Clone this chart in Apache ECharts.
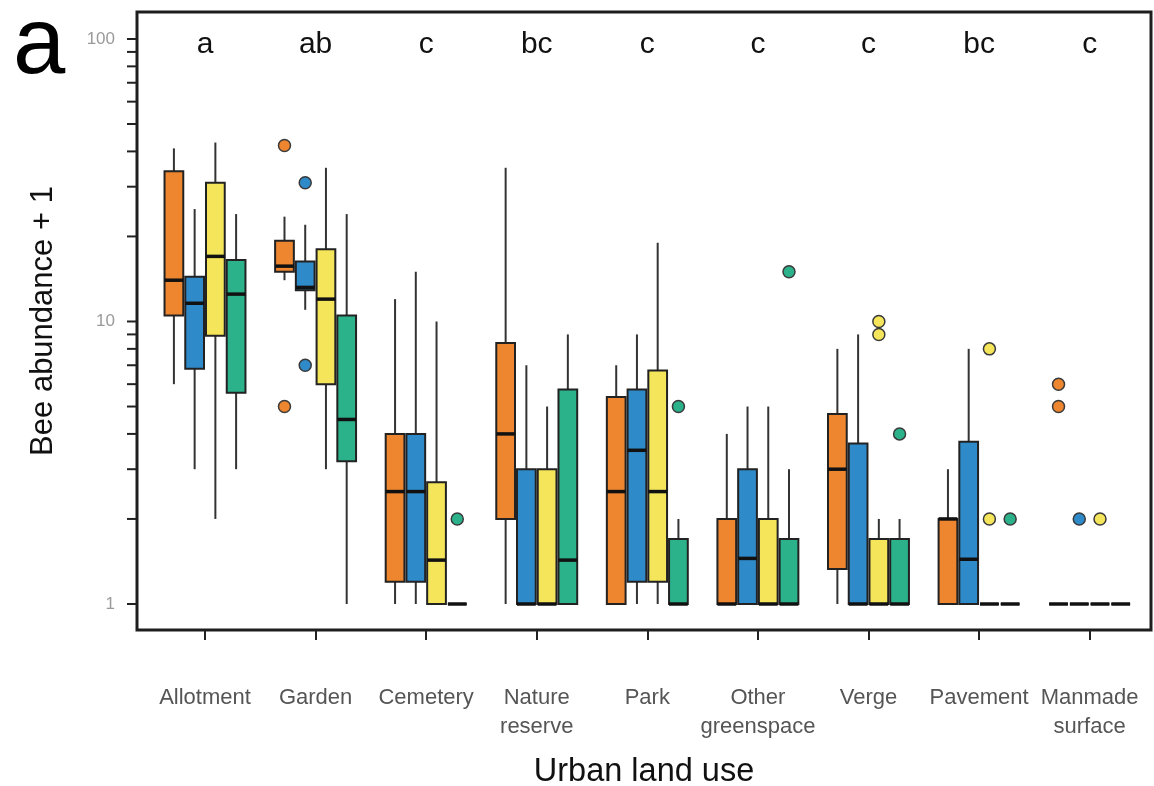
<!DOCTYPE html>
<html>
<head>
<meta charset="utf-8">
<script src="https://cdn.jsdelivr.net/npm/echarts@6/dist/echarts.min.js"></script>
<style>
  html, body { margin: 0; padding: 0; background: #ffffff; }
  #chart { width: 1154px; height: 786px; }
</style>
</head>
<body>
<div id="chart"></div>
<script>
// Land-use categories along the x axis and the significance letters above them
const categories = ['Allotment', 'Garden', 'Cemetery', 'Nature\nreserve', 'Park',
  'Other\ngreenspace', 'Verge', 'Pavement', 'Manmade\nsurface'];
const letters = ['a', 'ab', 'c', 'bc', 'c', 'c', 'c', 'bc', 'c'];

// Box summaries per category: [lower whisker, Q1, median, Q3, upper whisker]
const orangeStats = [
  [6, 10.5, 14, 34, 41], [14, 15, 15.7, 19.3, 23.5], [1, 1.2, 2.5, 4, 12],
  [1, 2, 4, 8.4, 35], [1, 1, 2.5, 5.4, 7], [1, 1, 1, 2, 4],
  [1, 1.33, 3, 4.7, 8], [1, 1, 2, 2, 3], [1, 1, 1, 1, 1]
];
const blueStats = [
  [3, 6.8, 11.6, 14.4, 25], [11, 12.9, 13.2, 16.3, 22], [1, 1.2, 2.5, 4, 15],
  [1, 1, 1, 3, 7], [1, 1.2, 3.5, 5.75, 9], [1, 1, 1.45, 3, 5],
  [1, 1, 1, 3.7, 9], [1, 1, 1.44, 3.75, 8], [1, 1, 1, 1, 1]
];
const yellowStats = [
  [2, 8.9, 17, 31, 43], [3, 6, 12, 18, 35], [1, 1, 1.43, 2.7, 10],
  [1, 1, 1, 3, 5], [1, 1.2, 2.5, 6.7, 19], [1, 1, 1, 2, 5],
  [1, 1, 1, 1.7, 2], [1, 1, 1, 1, 1], [1, 1, 1, 1, 1]
];
const greenStats = [
  [3, 5.6, 12.5, 16.5, 24], [1, 3.2, 4.5, 10.5, 24], [1, 1, 1, 1, 1],
  [1, 1, 1.43, 5.75, 9], [1, 1, 1, 1.7, 2], [1, 1, 1, 1.7, 3],
  [1, 1, 1, 1.7, 2], [1, 1, 1, 1, 1], [1, 1, 1, 1, 1]
];

// Outlying points: [category index, value]
const orangeOutliers = [[1, 42], [1, 5], [8, 6], [8, 5]];
const blueOutliers = [[1, 31], [1, 7], [8, 2]];
const yellowOutliers = [[6, 10], [6, 9], [7, 8], [7, 2], [8, 2]];
const greenOutliers = [[2, 2], [4, 5], [5, 15], [6, 4], [7, 2]];

// Log-axis tick marks (major and minor)
const yTickValues = [1, 2, 3, 4, 5, 6, 7, 8, 9, 10, 20, 30, 40, 50, 60, 70, 80, 90, 100];

const palette = ['#EE862F', '#2E8AC9', '#F5E55A', '#2BB28A'];
const FONT = 'Liberation Sans, Arial, sans-serif';
const X_MIN = -0.615, X_MAX = 8.555;
const SLOT = 0.75 / 4;

function offsetOf(gi) { return (gi - 1.5) * SLOT; }

function boxSeries(stats, gi) {
  return {
    type: 'custom',
    data: stats.map((s, i) => [i].concat(s)),
    encode: { x: 0, y: [1, 2, 3, 4, 5] },
    z: 3,
    renderItem(params, api) {
      const xc = api.value(0) + offsetOf(gi);
      const lo = api.coord([xc, api.value(1)]);
      const q1 = api.coord([xc, api.value(2)]);
      const md = api.coord([xc, api.value(3)]);
      const q3 = api.coord([xc, api.value(4)]);
      const hi = api.coord([xc, api.value(5)]);
      const left = api.coord([xc - SLOT / 2, api.value(3)])[0];
      const right = api.coord([xc + SLOT / 2, api.value(3)])[0];
      const cx = lo[0];
      const wStyle = { stroke: '#333333', lineWidth: 2 };
      return {
        type: 'group',
        children: [
          { type: 'line', shape: { x1: cx, y1: hi[1], x2: cx, y2: q3[1] }, style: wStyle },
          { type: 'line', shape: { x1: cx, y1: q1[1], x2: cx, y2: lo[1] }, style: wStyle },
          { type: 'rect', shape: { x: left + 1, y: q3[1], width: right - left - 2, height: q1[1] - q3[1] },
            style: { fill: palette[gi], stroke: '#222222', lineWidth: 2 } },
          { type: 'line', shape: { x1: left + 1, y1: md[1], x2: right - 1, y2: md[1] },
            style: { stroke: '#111111', lineWidth: 3.5 } }
        ]
      };
    }
  };
}

function outlierSeries(points, gi) {
  return {
    type: 'custom',
    data: points,
    encode: { x: 0, y: 1 },
    z: 4,
    renderItem(params, api) {
      const p = api.coord([api.value(0) + offsetOf(gi), api.value(1)]);
      return {
        type: 'circle',
        shape: { cx: p[0], cy: p[1], r: 6 },
        style: { fill: palette[gi], stroke: '#3a3a3a', lineWidth: 1.5 }
      };
    }
  };
}

const letterSeries = {
  type: 'custom',
  data: letters.map((t, i) => [i, 100]),
  encode: { x: 0, y: 1 },
  z: 5,
  renderItem(params, api) {
    const p = api.coord([api.value(0), api.value(1)]);
    return {
      type: 'text',
      x: p[0], y: p[1] + 6,
      style: { text: letters[params.dataIndex], fontSize: 30, fontFamily: FONT, fill: '#111111',
               align: 'center', verticalAlign: 'middle' }
    };
  }
};

const yTickSeries = {
  type: 'custom',
  data: yTickValues.map(v => [X_MIN, v]),
  encode: { x: 0, y: 1 },
  z: 2,
  renderItem(params, api) {
    const p = api.coord([api.value(0), api.value(1)]);
    return {
      type: 'line',
      shape: { x1: p[0] - 10, y1: p[1], x2: p[0], y2: p[1] },
      style: { stroke: '#222222', lineWidth: 2 }
    };
  }
};

const chart = echarts.init(document.getElementById('chart'), null, { renderer: 'canvas' });
chart.setOption({
  animation: false,
  backgroundColor: '#ffffff',
  textStyle: { fontFamily: FONT },
  grid: {
    left: 137, right: 3, top: 12, bottom: 156,
    outerBoundsMode: 'none', containLabel: false,
    show: true, borderColor: '#1e1e1e', borderWidth: 3, backgroundColor: 'transparent'
  },
  graphic: [{
    type: 'text', left: 13, top: 0,
    style: { text: 'a', fontSize: 94, fontFamily: FONT, fill: '#000000' }
  }],
  xAxis: {
    type: 'value', min: X_MIN, max: X_MAX,
    axisLine: { show: false },
    splitLine: { show: false },
    axisTick: { show: true, customValues: [0, 1, 2, 3, 4, 5, 6, 7, 8], length: 10,
                lineStyle: { color: '#222222', width: 2 } },
    axisLabel: { customValues: [0, 1, 2, 3, 4, 5, 6, 7, 8],
                 formatter: v => categories[Math.round(v)],
                 margin: 53, fontSize: 22, lineHeight: 29, color: '#555555', fontFamily: FONT },
    name: 'Urban land use', nameLocation: 'middle', nameGap: 126,
    nameTextStyle: { fontSize: 32.5, color: '#111111', fontFamily: FONT }
  },
  yAxis: {
    type: 'log', logBase: 10, min: 0.809, max: 124.6,
    axisLine: { show: false },
    axisTick: { show: false },
    splitLine: { show: false },
    axisLabel: {
      formatter: v => {
        const l = Math.log10(v);
        return Math.abs(l - Math.round(l)) < 1e-6 ? String(Math.round(v)) : '';
      },
      margin: 22, fontSize: 17, color: '#9a9a9a', fontFamily: FONT
    },
    name: 'Bee abundance + 1', nameLocation: 'middle', nameGap: 78, nameRotate: 90,
    nameTextStyle: { fontSize: 31, color: '#111111', fontFamily: FONT }
  },
  series: [
    boxSeries(orangeStats, 0), boxSeries(blueStats, 1),
    boxSeries(yellowStats, 2), boxSeries(greenStats, 3),
    outlierSeries(orangeOutliers, 0), outlierSeries(blueOutliers, 1),
    outlierSeries(yellowOutliers, 2), outlierSeries(greenOutliers, 3),
    letterSeries, yTickSeries
  ]
});
</script>
</body>
</html>
